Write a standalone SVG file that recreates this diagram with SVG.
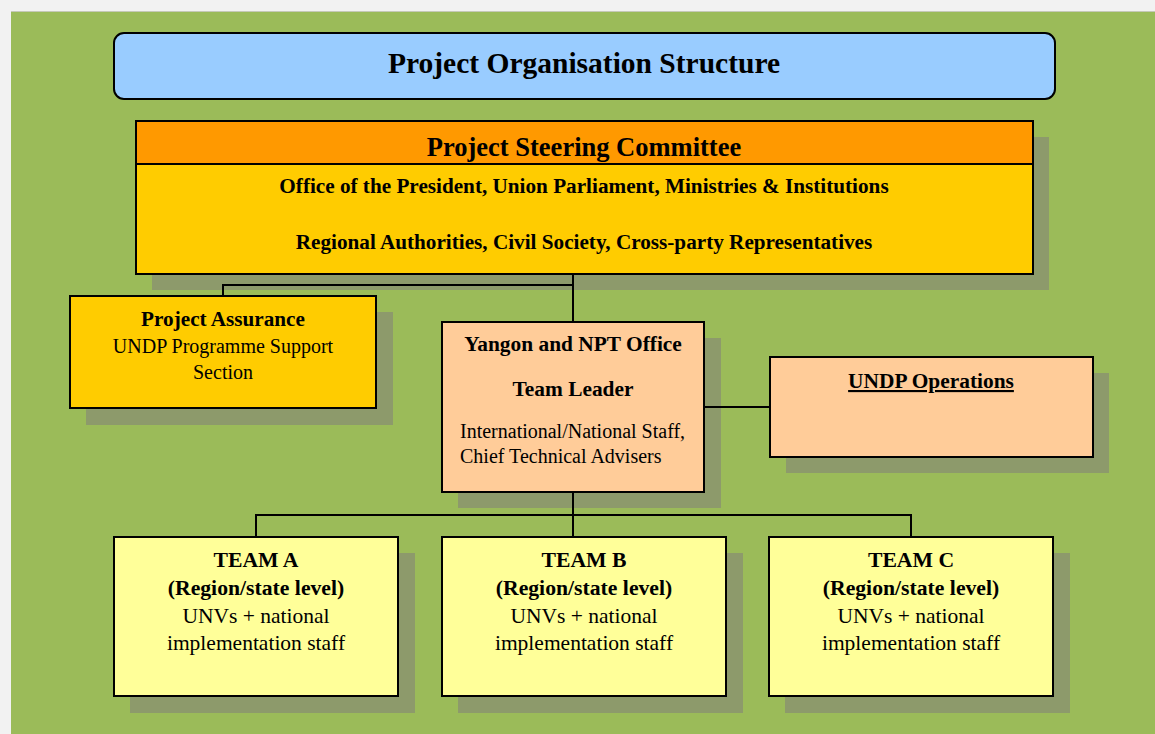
<svg xmlns="http://www.w3.org/2000/svg" width="1155" height="734" viewBox="0 0 1155 734">
<style>
.box{stroke:#000;stroke-width:2}
.sh{fill:#8d9a6b}
.b{font-family:"Liberation Serif","Times New Roman",serif;font-weight:bold;fill:#000;text-anchor:middle}
.n{font-family:"Liberation Serif","Times New Roman",serif;fill:#000;text-anchor:middle}
.l{text-anchor:start}
.conn{fill:none;stroke:#000;stroke-width:2}
</style>
<rect x="0" y="0" width="1155" height="734" fill="#f2f2f2"/>
<rect x="11" y="11" width="1144" height="723" fill="#9bbb59"/>
<line x1="11" y1="11.5" x2="1155" y2="11.5" stroke="#c5c9b8" stroke-width="1"/>

<g id="title">
<rect class="box" x="114" y="33" width="941" height="66" rx="10" fill="#99ccff"/>
<text class="b" x="584" y="73" font-size="29.5">Project Organisation Structure</text>
</g>

<g id="shadows">
<rect class="sh" x="152" y="137" width="897" height="43"/>
<rect class="sh" x="152" y="180" width="897" height="110"/>
<rect class="sh" x="86" y="312" width="307" height="113"/>
<rect class="sh" x="458" y="338" width="263" height="170"/>
<rect class="sh" x="786" y="373" width="323" height="100"/>
<rect class="sh" x="130" y="553" width="285" height="160"/>
<rect class="sh" x="458" y="553" width="285" height="160"/>
<rect class="sh" x="785" y="553" width="285" height="160"/>
</g>

<g id="connectors">
<polyline class="conn" points="223,296 223,285 573,285"/>
<line class="conn" x1="573" y1="274" x2="573" y2="322"/>
<line class="conn" x1="704" y1="407" x2="770" y2="407"/>
<line class="conn" x1="573" y1="492" x2="573" y2="537"/>
<polyline class="conn" points="256,537 256,515 911,515 911,537"/>
</g>

<g id="steering">
<rect class="box" x="136" y="121" width="897" height="153" fill="#ffcc00"/>
<rect class="box" x="136" y="121" width="897" height="43" fill="#ff9900"/>
<text class="b" x="584" y="156" font-size="26.5">Project Steering Committee</text>
<text class="b" x="584" y="193" font-size="21.2">Office of the President, Union Parliament, Ministries &amp; Institutions</text>
<text class="b" x="584" y="249" font-size="21.2">Regional Authorities, Civil Society, Cross-party Representatives</text>
</g>

<g id="assurance">
<rect class="box" x="70" y="296" width="306" height="112" fill="#ffcc00"/>
<text class="b" x="223" y="326" font-size="21.2">Project Assurance</text>
<text class="n" x="223" y="353" font-size="20">UNDP Programme Support</text>
<text class="n" x="223" y="379" font-size="20">Section</text>
</g>

<g id="yangon">
<rect class="box" x="442" y="322" width="262" height="170" fill="#ffcc99"/>
<text class="b" x="573" y="351" font-size="21.4">Yangon and NPT Office</text>
<text class="b" x="573" y="396" font-size="21.4">Team Leader</text>
<text class="n l" x="460" y="438" font-size="20">International/National Staff,</text>
<text class="n l" x="460" y="463" font-size="20">Chief Technical Advisers</text>
</g>

<g id="operations">
<rect class="box" x="770" y="357" width="323" height="100" fill="#ffcc99"/>
<text class="b" x="931" y="388" font-size="21.4" text-decoration="underline">UNDP Operations</text>
</g>

<g id="teamA">
<rect class="box" x="114" y="537" width="284" height="159" fill="#ffff99"/>
<text class="b" x="256" y="567" font-size="21.7">TEAM A</text>
<text class="b" x="256" y="595" font-size="21.7">(Region/state level)</text>
<text class="n" x="256" y="623" font-size="21.5">UNVs + national</text>
<text class="n" x="256" y="650" font-size="21.5">implementation staff</text>
</g>

<g id="teamB">
<rect class="box" x="442" y="537" width="284" height="159" fill="#ffff99"/>
<text class="b" x="584" y="567" font-size="21.7">TEAM B</text>
<text class="b" x="584" y="595" font-size="21.7">(Region/state level)</text>
<text class="n" x="584" y="623" font-size="21.5">UNVs + national</text>
<text class="n" x="584" y="650" font-size="21.5">implementation staff</text>
</g>

<g id="teamC">
<rect class="box" x="769" y="537" width="284" height="159" fill="#ffff99"/>
<text class="b" x="911" y="567" font-size="21.7">TEAM C</text>
<text class="b" x="911" y="595" font-size="21.7">(Region/state level)</text>
<text class="n" x="911" y="623" font-size="21.5">UNVs + national</text>
<text class="n" x="911" y="650" font-size="21.5">implementation staff</text>
</g>
</svg>
